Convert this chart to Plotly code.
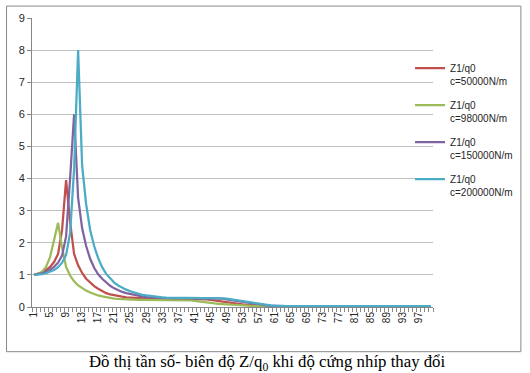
import plotly.graph_objects as go

categories = [str(i) for i in range(1, 101)]
tick_labels = [str(i) if (i - 1) % 4 == 0 else "" for i in range(1, 101)]

series_names = [
    "Z1/q0<br>c=50000N/m",
    "Z1/q0<br>c=98000N/m",
    "Z1/q0<br>c=150000N/m",
    "Z1/q0<br>c=200000N/m",
]
series_colors = ["#C0504D", "#9BBB59", "#8064A2", "#4BACC6"]

z_c50000 = [
    1.00, 1.03, 1.08, 1.15, 1.25, 1.40, 1.65, 2.40, 3.95, 2.65,
    1.65, 1.30, 1.06, 0.88, 0.75, 0.65, 0.57, 0.50, 0.43, 0.39,
    0.36, 0.34, 0.32, 0.30, 0.29, 0.28, 0.27, 0.27, 0.26, 0.26,
    0.26, 0.26, 0.26, 0.26, 0.26, 0.26, 0.26, 0.26, 0.26, 0.26,
    0.26, 0.26, 0.25, 0.24, 0.22, 0.20, 0.18, 0.16, 0.14, 0.12,
    0.10, 0.09, 0.08, 0.07, 0.06, 0.05, 0.04, 0.04, 0.03, 0.03,
    0.03, 0.03, 0.03, 0.03, 0.03, 0.03, 0.03, 0.03, 0.03, 0.03,
    0.03, 0.03, 0.03, 0.03, 0.03, 0.03, 0.03, 0.03, 0.03, 0.03,
    0.03, 0.03, 0.03, 0.03, 0.04, 0.04, 0.04, 0.04, 0.04, 0.04,
    0.04, 0.04, 0.04, 0.04, 0.04, 0.03, 0.03, 0.03, 0.03, 0.03,
]
z_c98000 = [
    1.00, 1.03, 1.10, 1.25, 1.55, 2.10, 2.62, 1.85, 1.25, 0.98,
    0.80, 0.67, 0.58, 0.51, 0.45, 0.40, 0.36, 0.33, 0.30, 0.28,
    0.26, 0.25, 0.24, 0.23, 0.23, 0.22, 0.22, 0.22, 0.22, 0.22,
    0.22, 0.22, 0.23, 0.23, 0.23, 0.23, 0.23, 0.22, 0.22, 0.21,
    0.19, 0.17, 0.15, 0.13, 0.12, 0.11, 0.10, 0.09, 0.08, 0.07,
    0.06, 0.05, 0.05, 0.04, 0.04, 0.03, 0.03, 0.03, 0.03, 0.02,
    0.02, 0.02, 0.02, 0.02, 0.02, 0.02, 0.02, 0.02, 0.02, 0.02,
    0.02, 0.02, 0.02, 0.02, 0.02, 0.02, 0.02, 0.02, 0.02, 0.02,
    0.02, 0.02, 0.02, 0.02, 0.02, 0.02, 0.02, 0.02, 0.02, 0.02,
    0.02, 0.02, 0.02, 0.02, 0.02, 0.02, 0.02, 0.02, 0.02, 0.02,
]
z_c150000 = [
    1.00, 1.02, 1.05, 1.10, 1.16, 1.25, 1.38, 1.60, 2.20, 4.00,
    6.00, 3.40, 2.45, 1.90, 1.50, 1.22, 1.02, 0.88, 0.76, 0.66,
    0.58, 0.52, 0.47, 0.43, 0.40, 0.37, 0.35, 0.33, 0.31, 0.30,
    0.29, 0.28, 0.28, 0.28, 0.28, 0.28, 0.28, 0.28, 0.28, 0.28,
    0.28, 0.28, 0.28, 0.28, 0.28, 0.28, 0.27, 0.26, 0.24, 0.22,
    0.20, 0.18, 0.15, 0.13, 0.11, 0.09, 0.08, 0.06, 0.05, 0.04,
    0.03, 0.03, 0.03, 0.03, 0.03, 0.03, 0.03, 0.03, 0.03, 0.03,
    0.03, 0.03, 0.03, 0.03, 0.03, 0.03, 0.03, 0.03, 0.03, 0.03,
    0.03, 0.03, 0.03, 0.03, 0.03, 0.03, 0.03, 0.03, 0.03, 0.03,
    0.03, 0.03, 0.03, 0.03, 0.03, 0.03, 0.03, 0.03, 0.03, 0.03,
]
z_c200000 = [
    1.00, 1.00, 1.02, 1.05, 1.09, 1.15, 1.24, 1.38, 1.62, 2.30,
    4.30, 8.00, 4.40, 3.20, 2.40, 1.90, 1.52, 1.24, 1.03, 0.88,
    0.76, 0.67, 0.60, 0.54, 0.49, 0.45, 0.41, 0.38, 0.36, 0.34,
    0.32, 0.31, 0.30, 0.29, 0.29, 0.28, 0.28, 0.28, 0.28, 0.28,
    0.28, 0.28, 0.28, 0.28, 0.28, 0.28, 0.28, 0.27, 0.26, 0.24,
    0.22, 0.20, 0.17, 0.15, 0.13, 0.11, 0.09, 0.07, 0.06, 0.05,
    0.04, 0.03, 0.03, 0.03, 0.03, 0.03, 0.03, 0.03, 0.03, 0.03,
    0.03, 0.03, 0.03, 0.03, 0.03, 0.03, 0.03, 0.03, 0.03, 0.03,
    0.03, 0.03, 0.03, 0.03, 0.03, 0.03, 0.03, 0.03, 0.03, 0.03,
    0.03, 0.03, 0.03, 0.03, 0.03, 0.03, 0.03, 0.03, 0.03, 0.03,
]
series_values = [z_c50000, z_c98000, z_c150000, z_c200000]

caption = "Đồ thị tần số- biên độ Z/q<sub>0</sub> khi độ cứng nhíp thay đổi"

fig = go.Figure()
for name, color, vals in zip(series_names, series_colors, series_values):
    fig.add_trace(go.Scatter(
        x=categories, y=vals, name=name, mode="lines",
        line=dict(color=color, width=2.25),
        legendgroup=name,
    ))

W, H = 530, 373
L, R, T, B = 31.5, 97, 16, 66
pw = W - L - R
ph = H - T - B

def px_x(x):
    return (x - L) / pw

def px_y(y):
    return (H - B - y) / ph

fig.update_layout(
    width=W, height=H, autosize=False,
    margin=dict(l=L, r=R, t=T, b=B, pad=0),
    paper_bgcolor="white", plot_bgcolor="white",
    font=dict(family="Liberation Sans, Arial, sans-serif", size=11, color="#262626"),
    showlegend=True,
    legend=dict(
        x=px_x(410), y=px_y(53.5), xanchor="left", yanchor="top",
        font=dict(size=10, color="#262626"),
        bgcolor="rgba(0,0,0,0)", borderwidth=0,
        itemwidth=30, valign="top", tracegroupgap=8,
    ),
    xaxis=dict(
        type="category", range=[-0.5, 99.5],
        tickmode="array", tickvals=categories, ticktext=tick_labels,
        tickangle=-90, tickfont=dict(size=10, color="#262626"),
        ticks="outside", ticklen=4, tickcolor="#868686", tickwidth=1,
        tickson="boundaries",
        showline=True, linecolor="#868686", linewidth=1,
        showgrid=False, zeroline=False, fixedrange=True,
    ),
    yaxis=dict(
        range=[0, 9], tickmode="linear", tick0=0, dtick=1,
        tickfont=dict(size=11, color="#262626"),
        ticks="outside", ticklen=4, tickcolor="#868686",
        showline=True, linecolor="#868686", linewidth=1,
        showgrid=True, gridcolor="#BFBFBF", gridwidth=1,
        zeroline=False, fixedrange=True,
    ),
    shapes=[dict(
        type="rect", xref="paper", yref="paper",
        x0=px_x(6), x1=px_x(521), y0=px_y(352), y1=px_y(4),
        line=dict(color="#888888", width=1), fillcolor="rgba(0,0,0,0)",
        layer="below",
    )],
    annotations=[dict(
        text=caption, xref="paper", yref="paper",
        x=px_x(266.5), y=px_y(363), xanchor="center", yanchor="middle",
        showarrow=False,
        font=dict(family="Liberation Serif, Times New Roman, serif", size=16.8, color="black"),
    )],
)

fig.write_html(
    "out.html",
    config={"displayModeBar": False},
    post_script="document.body.style.margin='0';document.body.style.padding='0';",
)
